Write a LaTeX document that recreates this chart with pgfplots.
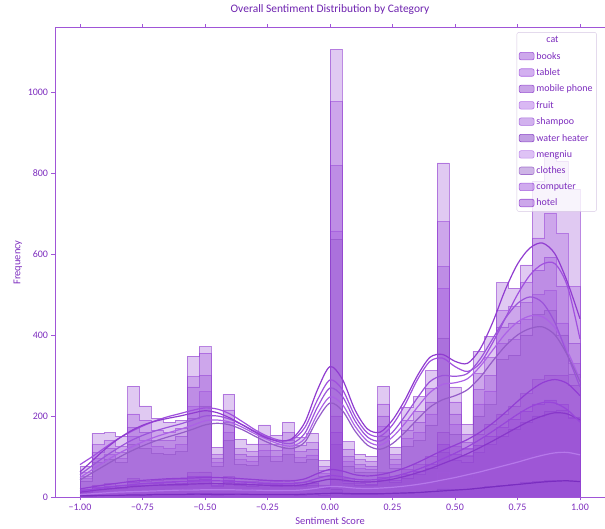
\documentclass[border=0pt]{standalone}
\usepackage{fontspec}
\setmainfont{Carlito}
\usepackage{pgfplots}
\usepackage{pgfplotstable}
\pgfplotsset{compat=1.18}

\definecolor{cbooks}{RGB}{146,62,212}
\definecolor{ctablet}{RGB}{160,80,222}
\definecolor{cphone}{RGB}{136,55,202}
\definecolor{cfruit}{RGB}{172,98,230}
\definecolor{cshampoo}{RGB}{155,84,218}
\definecolor{cheater}{RGB}{122,45,192}
\definecolor{cmengniu}{RGB}{182,120,234}
\definecolor{cclothes}{RGB}{148,92,200}
\definecolor{ccomputer}{RGB}{152,70,218}
\definecolor{chotel}{RGB}{144,60,208}
\definecolor{tpurple}{RGB}{125,45,190}
\definecolor{tdark}{RGB}{110,35,175}
\definecolor{aline}{RGB}{160,85,215}
\definecolor{lgray}{RGB}{215,200,228}

% histogram counts, bins of width 1/21 from -1 to 1 (left edges; last row closes the step)
\pgfplotstableread{
x books tablet phone fruit shampoo heater mengniu clothes computer hotel
-1.0000 18 60 11 45 50 2 6 40 14 77
-0.9524 30 130 20 95 110 4 10 85 24 158
-0.9048 33 140 22 105 120 4 11 92 26 159
-0.8571 30 125 21 95 110 4 11 85 25 150
-0.8095 45 205 30 150 172 6 15 130 36 274
-0.7619 40 190 28 140 160 5 14 120 33 225
-0.7143 42 165 29 125 140 6 15 108 34 195
-0.6667 44 160 30 120 140 6 16 105 36 185
-0.6190 43 170 30 130 150 6 16 112 35 190
-0.5714 60 297 42 223 272 8 22 195 50 348
-0.5238 62 355 44 260 300 8 23 225 52 371
-0.4762 35 105 26 85 95 5 14 75 30 123
-0.4286 50 215 36 160 185 7 19 140 42 254
-0.3810 40 120 28 92 105 6 15 80 33 143
-0.3333 38 112 27 88 100 6 14 78 31 131
-0.2857 42 150 30 115 130 6 16 100 35 178
-0.2381 38 130 27 100 115 6 15 88 32 153
-0.1905 42 160 29 120 140 6 16 105 34 185
-0.1429 36 128 26 98 112 5 14 86 30 148
-0.0952 40 135 28 104 118 6 15 92 33 158
-0.0476 30 75 22 58 65 4 12 50 25 90
0.0000 200 976 130 657 818 20 60 637 160 1105
0.0476 45 118 33 88 100 7 18 76 38 137
0.0952 40 92 29 70 80 6 16 62 33 106
0.1429 38 88 28 68 76 6 16 60 32 101
0.1905 60 230 42 175 200 8 22 150 48 274
0.2381 50 105 36 80 92 8 20 70 42 124
0.2857 68 190 47 145 165 10 25 125 55 222
0.3333 80 212 55 160 185 11 29 140 64 248
0.3810 100 268 70 205 235 13 35 178 80 312
0.4286 160 680 110 516 569 20 60 393 130 825
0.4762 125 235 90 180 205 18 48 155 105 272
0.5238 120 155 86 118 135 18 45 102 100 180
0.5714 155 305 110 230 265 22 58 200 128 360
0.6190 180 345 130 262 300 26 68 228 150 397
0.6667 205 460 150 380 420 29 78 340 172 529
0.7143 225 470 168 390 430 32 88 350 192 516
0.7619 255 530 185 440 480 36 98 400 212 573
0.8095 290 640 200 500 560 39 106 450 230 780
0.8571 301 700 212 510 592 41 112 460 240 850
0.9048 300 650 215 430 520 41 113 400 228 830
0.9524 276 520 198 330 380 38 105 304 195 760
1.0000 276 520 198 330 380 38 105 304 195 760
}\histdata

% kernel density curves, scaled to counts
\pgfplotstableread{
x hotel tablet shampoo fruit clothes books computer phone mengniu heater
-1.00 62 80 55 48 42 20 15 12 6 3
-0.95 90 100 78 68 60 25 19 16 8 3
-0.90 118 122 100 88 78 30 23 19 10 4
-0.85 142 143 120 106 96 34 27 22 12 4
-0.80 162 160 138 122 112 38 30 25 13 5
-0.75 177 175 152 136 126 41 33 27 14 5
-0.70 187 188 163 148 138 43 35 29 15 6
-0.65 194 198 172 158 148 45 37 30 16 6
-0.60 200 206 180 167 157 46 38 31 17 6
-0.55 207 214 190 177 167 47 39 32 17 7
-0.50 213 220 200 188 178 48 40 33 18 7
-0.45 208 217 200 190 182 48 40 33 18 7
-0.40 195 205 192 185 178 47 39 32 18 7
-0.35 178 186 178 172 166 45 37 31 17 7
-0.30 160 166 162 156 150 43 35 30 17 6
-0.25 145 150 147 142 135 41 34 29 16 6
-0.20 138 140 135 130 124 40 33 28 16 6
-0.15 145 142 133 126 120 40 33 28 16 6
-0.10 185 172 158 145 136 45 37 31 18 7
-0.05 265 240 222 205 192 58 46 38 22 8
0.00 322 289 269 247 232 68 53 44 26 9
0.05 290 265 248 228 213 64 50 42 25 9
0.10 215 200 188 175 163 55 44 38 22 8
0.15 168 158 148 138 128 52 42 37 21 8
0.20 160 150 138 128 118 55 44 39 22 8
0.25 190 178 160 148 132 62 50 44 24 9
0.30 240 228 200 182 160 72 58 51 27 10
0.35 300 290 245 222 192 85 68 60 31 11
0.40 345 335 285 258 222 100 80 70 36 13
0.45 352 343 300 278 240 115 94 82 42 15
0.50 335 322 298 282 250 128 108 94 48 17
0.55 330 310 305 292 265 142 124 107 55 19
0.60 365 330 340 322 295 160 142 122 62 22
0.65 430 380 390 362 335 182 162 138 70 25
0.70 510 440 440 402 372 208 183 155 78 28
0.75 575 500 478 432 400 236 204 172 86 31
0.80 615 548 494 447 416 262 222 188 95 34
0.85 627 575 480 445 420 282 233 200 103 37
0.90 600 576 430 418 400 290 232 208 109 39
0.95 530 520 350 360 350 280 215 205 110 40
1.00 440 390 272 290 285 250 185 190 104 38
}\kdedata

\newcommand{\histplot}[1]{\addplot[const plot, fill=c#1, fill opacity=0.28, draw=c#1, draw opacity=0.6, line width=0.55bp, forget plot] table[x=x,y=#1]{\histdata} \closedcycle;}
\newcommand{\kdeplot}[1]{\addplot[smooth, draw=c#1, line width=1.2bp, forget plot] table[x=x,y=#1]{\kdedata};}
\newcommand{\legitem}[2]{\addlegendimage{fill=c#1, fill opacity=0.45, draw=c#1, draw opacity=0.8, line width=0.6bp}\addlegendentry{#2}}

\begin{document}
\begin{tikzpicture}
\begin{axis}[
  at={(0bp,0bp)}, anchor=south west,
  scale only axis, width=550bp, height=469bp,
  xmin=-1.1, xmax=1.1, ymin=0, ymax=1158,
  axis line style={draw=aline, line width=1bp},
  xtick={-1,-0.75,-0.5,-0.25,0,0.25,0.5,0.75,1},
  xticklabels={−1.00,−0.75,−0.50,−0.25,0.00,0.25,0.50,0.75,1.00},
  ytick={0,200,400,600,800,1000},
  /pgf/number format/assume math mode=true,
  /pgf/number format/1000 sep={},
  tick align=outside, major tick length=3.5bp,
  tick style={draw=aline, line width=0.8bp},
  ticklabel style={font=\fontsize{10}{12}\selectfont, text=tpurple},
  xlabel={Sentiment Score}, ylabel={Frequency},
  xlabel style={at={(axis description cs:0.5,-0.0512)}, anchor=center, font=\fontsize{10.5}{12}\selectfont, text=tpurple},
  ylabel style={at={(axis description cs:-0.0673,0.5)}, anchor=center, font=\fontsize{10.5}{12}\selectfont, text=tpurple},
  title={Overall Sentiment Distribution by Category},
  title style={at={(axis description cs:0.5,1.0277)}, anchor=center, font=\fontsize{11.5}{13}\selectfont, text=tdark},
  legend image code/.code={\draw[#1] (0bp,-3.5bp) rectangle (15bp,4bp);},
  legend style={at={(axis description cs:0.985,0.991)}, anchor=north east,
    draw=lgray, fill=white, fill opacity=0.8, text opacity=1, rounded corners=2bp,
    font=\fontsize{10}{12}\selectfont, text=tpurple, cells={anchor=west},
    inner sep=2bp, row sep=4bp},
]
\histplot{books}
\histplot{tablet}
\histplot{phone}
\histplot{fruit}
\histplot{shampoo}
\histplot{heater}
\histplot{mengniu}
\histplot{clothes}
\histplot{computer}
\histplot{hotel}
\kdeplot{books}
\kdeplot{tablet}
\kdeplot{phone}
\kdeplot{fruit}
\kdeplot{shampoo}
\kdeplot{heater}
\kdeplot{mengniu}
\kdeplot{clothes}
\kdeplot{computer}
\kdeplot{hotel}
\addlegendimage{empty legend}\addlegendentry{\hspace{10bp}cat}
\legitem{books}{books}
\legitem{tablet}{tablet}
\legitem{phone}{mobile phone}
\legitem{fruit}{fruit}
\legitem{shampoo}{shampoo}
\legitem{heater}{water heater}
\legitem{mengniu}{mengniu}
\legitem{clothes}{clothes}
\legitem{computer}{computer}
\legitem{hotel}{hotel}
\end{axis}
\pgfresetboundingbox
\path[use as bounding box] (-55bp,-32bp) rectangle (550bp,497bp);
\end{tikzpicture}
\end{document}
